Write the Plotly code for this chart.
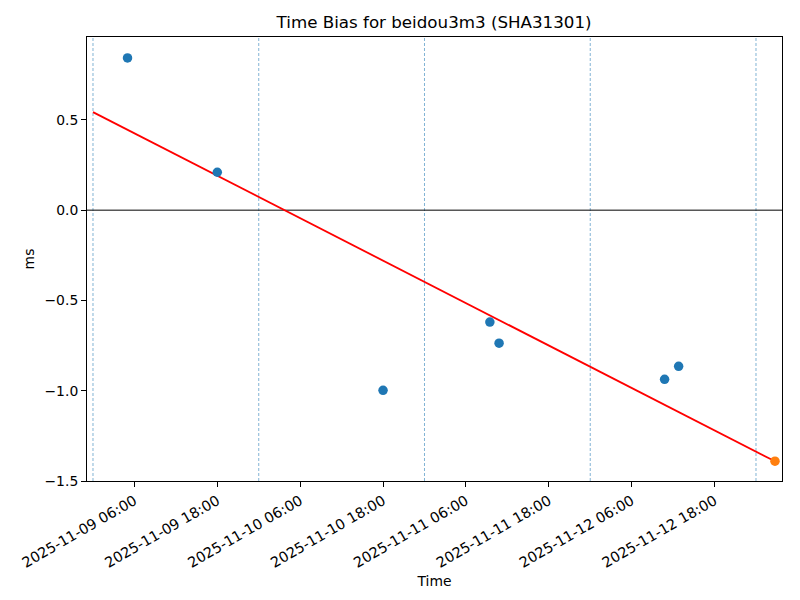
"""Time bias scatter with linear fit."""

import plotly.graph_objects as go

# observed samples
obs_times = [
    "2025-11-09 05:00", "2025-11-09 18:00", "2025-11-10 18:00",
    "2025-11-11 09:28", "2025-11-11 10:48", "2025-11-12 10:46",
    "2025-11-12 12:48",
]
obs_bias_ms = [0.843, 0.21, -0.998, -0.62, -0.737, -0.937, -0.865]

# latest (predicted) point
latest_time = ["2025-11-13 02:45"]
latest_bias_ms = [-1.39]

# linear fit endpoints
fit_times = ["2025-11-09 00:00", "2025-11-13 02:45"]
fit_bias_ms = [0.543, -1.391]

# day boundaries
day_marks = ["2025-11-09", "2025-11-10", "2025-11-11", "2025-11-12", "2025-11-13"]

x_ticks = [
    "2025-11-09 06:00", "2025-11-09 18:00", "2025-11-10 06:00", "2025-11-10 18:00",
    "2025-11-11 06:00", "2025-11-11 18:00", "2025-11-12 06:00", "2025-11-12 18:00",
]
y_ticks = [-1.5, -1.0, -0.5, 0.0, 0.5]

FONT = "DejaVu Sans"

fig = go.Figure()
fig.add_trace(go.Scatter(
    x=fit_times, y=fit_bias_ms, mode="lines",
    line=dict(color="red", width=1.8), showlegend=False,
))
fig.add_trace(go.Scatter(
    x=obs_times, y=obs_bias_ms, mode="markers",
    marker=dict(color="#1f77b4", size=9.5), showlegend=False,
))
fig.add_trace(go.Scatter(
    x=latest_time, y=latest_bias_ms, mode="markers",
    marker=dict(color="#ff7f0e", size=9.5), showlegend=False,
))

for d in day_marks:
    fig.add_vline(x=d, line=dict(color="rgba(31,119,180,0.8)", width=0.7, dash="3px,2px"), layer="below")
fig.add_hline(y=0, line=dict(color="black", width=1), layer="below")

# page body has an 8px margin, so the figure is 792x592 placed at (8, 8)
fig.update_layout(
    width=792,
    height=592,
    plot_bgcolor="white",
    paper_bgcolor="white",
    font=dict(family=FONT, size=13.9, color="black"),
    margin=dict(l=79, r=18, t=29, b=119),
    title=dict(text="Time Bias for beidou3m3 (SHA31301)", x=0.538, xanchor="center",
               y=0.976, yanchor="middle", font=dict(size=16.7)),
    xaxis=dict(
        range=["2025-11-08 23:08", "2025-11-13 03:46"],
        tickvals=x_ticks, ticktext=x_ticks, tickangle=-30,
        tickfont=dict(size=14.4),
        showgrid=False, zeroline=False,
        showline=True, linecolor="black", linewidth=1, mirror=True,
        ticks="outside", ticklen=5, tickcolor="black",
        title=dict(text="Time", standoff=6, font=dict(size=13.9)),
    ),
    yaxis=dict(
        range=[-1.5, 0.959],
        tickvals=y_ticks, tickformat=".1f",
        showgrid=False, zeroline=False,
        showline=True, linecolor="black", linewidth=1, mirror=True,
        ticks="outside", ticklen=5, tickcolor="black",
        title=dict(text="ms", standoff=6, font=dict(size=13.9)),
    ),
)

fig.write_html("out.html")
